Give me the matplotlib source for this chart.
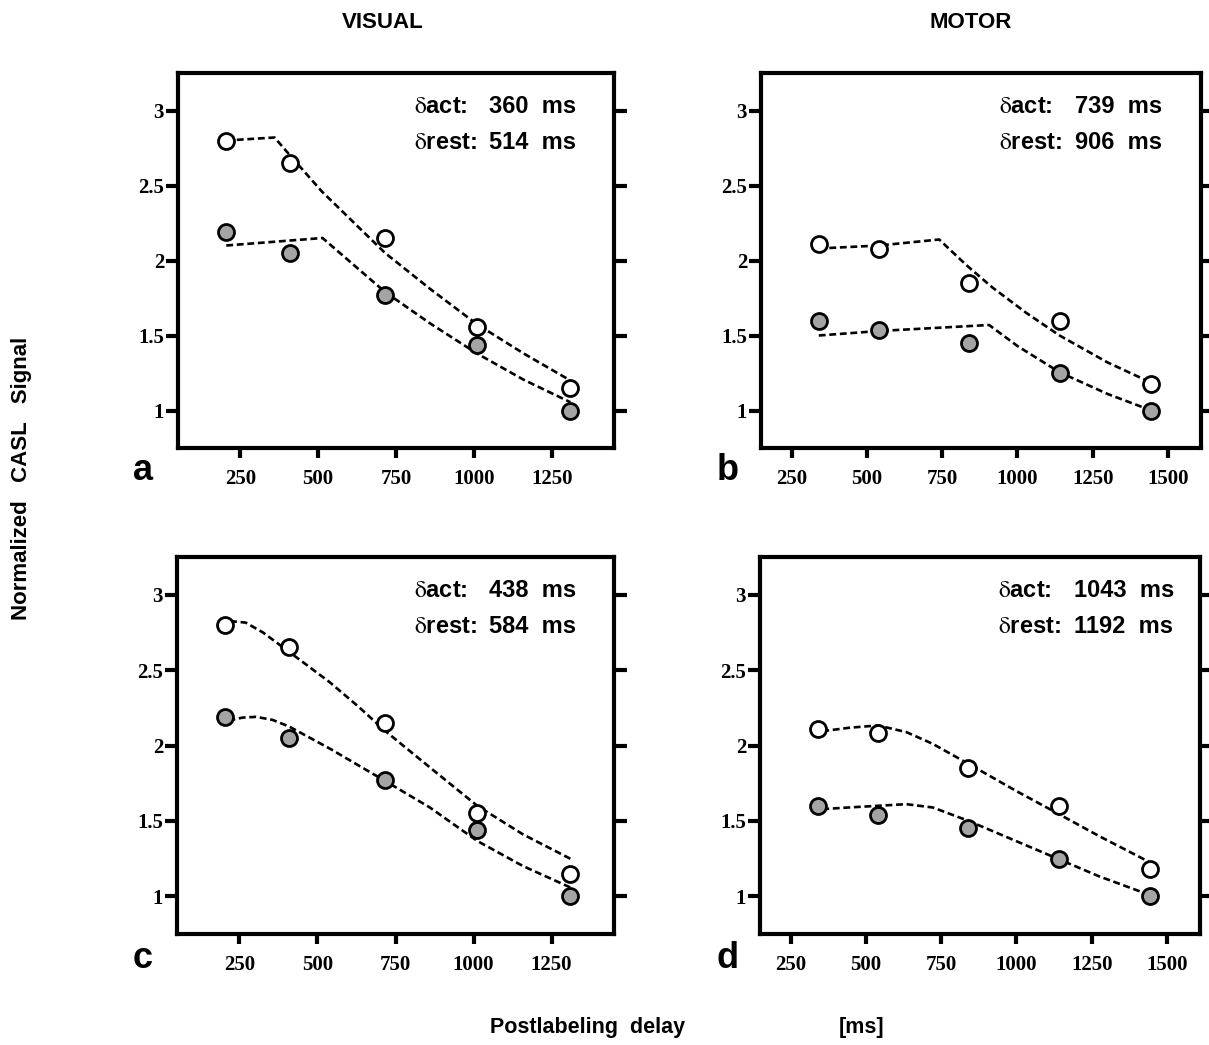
import matplotlib.pyplot as plt

plt.rcParams['mathtext.fontset'] = 'stix'

# measured points (same data shown in both rows)
visual_x = [205, 410, 715, 1010, 1310]
visual_act = [2.80, 2.65, 2.15, 1.555, 1.15]
visual_rest = [2.19, 2.05, 1.77, 1.44, 1.00]

motor_x = [340, 540, 840, 1140, 1445]
motor_act = [2.11, 2.08, 1.85, 1.60, 1.18]
motor_rest = [1.60, 1.54, 1.45, 1.25, 1.00]

# fitted model curves
fit_a_act_x = [205, 360, 410, 512, 715, 860, 1010, 1160, 1310]
fit_a_act_y = [2.80, 2.82, 2.70, 2.46, 2.05, 1.81, 1.575, 1.38, 1.20]
fit_a_rest_x = [205, 514, 715, 860, 1010, 1160, 1310]
fit_a_rest_y = [2.10, 2.15, 1.79, 1.58, 1.38, 1.205, 1.055]

fit_b_act_x = [340, 540, 740, 830, 917, 1030, 1140, 1300, 1445]
fit_b_act_y = [2.08, 2.10, 2.14, 1.97, 1.82, 1.65, 1.50, 1.32, 1.185]
fit_b_rest_x = [340, 540, 906, 1000, 1140, 1300, 1445]
fit_b_rest_y = [1.50, 1.53, 1.57, 1.43, 1.255, 1.11, 1.00]

fit_c_act_x = [220, 270, 325, 410, 539, 630, 715, 860, 1012, 1159, 1314]
fit_c_act_y = [2.825, 2.815, 2.75, 2.62, 2.42, 2.26, 2.10, 1.855, 1.60, 1.41, 1.245]
fit_c_rest_x = [215, 260, 303, 356, 410, 539, 715, 860, 1012, 1159, 1314]
fit_c_rest_y = [2.165, 2.185, 2.19, 2.17, 2.125, 1.98, 1.767, 1.589, 1.367, 1.20, 1.055]

fit_d_act_x = [355, 446, 540, 634, 722, 841, 998, 1142, 1274, 1440]
fit_d_act_y = [2.095, 2.118, 2.133, 2.089, 2.011, 1.878, 1.70, 1.544, 1.40, 1.229]
fit_d_rest_x = [355, 450, 540, 634, 722, 841, 998, 1142, 1274, 1440]
fit_d_rest_y = [1.578, 1.59, 1.60, 1.611, 1.589, 1.50, 1.367, 1.245, 1.133, 1.011]

y_ticks = [1, 1.5, 2, 2.5, 3]
y_ticklabels = ['1', '1.5', '2', '2.5', '3']
visual_xticks = [250, 500, 750, 1000, 1250]
motor_xticks = [250, 500, 750, 1000, 1250, 1500]

delays = {'a': ('360', '514'), 'b': ('739', '906'),
          'c': ('438', '584'), 'd': ('1043', '1192')}

W, H = 1209, 1045
fig = plt.figure(figsize=(W / 100, H / 100), dpi=100)


def px_axes(left, top, right, bottom):
    return fig.add_axes([left / W, 1 - bottom / H, (right - left) / W, (bottom - top) / H])


panels = [
    ('a', px_axes(178, 73, 614, 448), visual_x, visual_act, visual_rest,
     fit_a_act_x, fit_a_act_y, fit_a_rest_x, fit_a_rest_y, visual_xticks, (50, 1450)),
    ('b', px_axes(761, 73, 1201, 448), motor_x, motor_act, motor_rest,
     fit_b_act_x, fit_b_act_y, fit_b_rest_x, fit_b_rest_y, motor_xticks, (148, 1610)),
    ('c', px_axes(177, 557, 614, 934), visual_x, visual_act, visual_rest,
     fit_c_act_x, fit_c_act_y, fit_c_rest_x, fit_c_rest_y, visual_xticks, (50, 1450)),
    ('d', px_axes(760, 557, 1200, 934), motor_x, motor_act, motor_rest,
     fit_d_act_x, fit_d_act_y, fit_d_rest_x, fit_d_rest_y, motor_xticks, (148, 1610)),
]

dash = (0, (2.6, 1.4))

for letter, ax, x, act, rest, fax, fay, frx, fry, xt, xl in panels:
    ax.plot(fax, fay, color='black', lw=1.9, linestyle=dash, zorder=2)
    ax.plot(frx, fry, color='black', lw=1.9, linestyle=dash, zorder=2)
    ax.plot(x, act, 'o', ms=11.5, mfc='white', mec='black', mew=2.0, zorder=3)
    ax.plot(x, rest, 'o', ms=11.5, mfc='#a4a4a4', mec='black', mew=2.0, zorder=3)

    ax.set_xlim(*xl)
    ax.set_ylim(0.75, 3.25)
    ax.set_xticks(xt)
    ax.set_xticklabels([str(v) for v in xt])
    ax.set_yticks(y_ticks)
    ax.set_yticklabels(y_ticklabels)
    for sp in ax.spines.values():
        sp.set_linewidth(3)
    ax.tick_params(axis='x', direction='out', length=7, width=3, pad=8)
    ax.tick_params(axis='y', direction='out', length=9, width=3, pad=1,
                   right=True, labelright=False)
    for lab in ax.get_xticklabels() + ax.get_yticklabels():
        lab.set_fontfamily('Liberation Serif')
        lab.set_fontweight('bold')
        lab.set_fontsize(15)

    d_act, d_rest = delays[letter]
    ax.text(0.542, 0.91, r'$\mathrm{\delta}$act:', transform=ax.transAxes,
            fontsize=17, fontweight='bold', family='Liberation Sans', va='center', ha='left')
    ax.text(0.542, 0.815, r'$\mathrm{\delta}$rest:', transform=ax.transAxes,
            fontsize=17, fontweight='bold', family='Liberation Sans', va='center', ha='left')
    ax.text(0.713, 0.91, d_act + '  ms', transform=ax.transAxes,
            fontsize=17, fontweight='bold', family='Liberation Sans', va='center', ha='left')
    ax.text(0.713, 0.815, d_rest + '  ms', transform=ax.transAxes,
            fontsize=17, fontweight='bold', family='Liberation Sans', va='center', ha='left')

# panel letters
for letter, (px, py) in {'a': (143, 470), 'b': (728, 470), 'c': (143, 958), 'd': (728, 958)}.items():
    fig.text(px / W, 1 - py / H, letter, fontsize=26, fontweight='bold',
             family='Liberation Sans', ha='center', va='center')

fig.text(383 / W, 1 - 22 / H, 'VISUAL', fontsize=16, fontweight='bold',
         family='Liberation Sans', ha='center', va='center')
fig.text(971 / W, 1 - 22 / H, 'MOTOR', fontsize=16, fontweight='bold',
         family='Liberation Sans', ha='center', va='center')
fig.text(22 / W, 1 - 478 / H, 'Normalized   CASL   Signal', fontsize=16, fontweight='bold',
         family='Liberation Sans', rotation=90, ha='center', va='center')
fig.text(588 / W, 1 - 1028 / H, 'Postlabeling  delay', fontsize=15.5, fontweight='bold',
         family='Liberation Sans', ha='center', va='center')
fig.text(862 / W, 1 - 1028 / H, '[ms]', fontsize=15.5, fontweight='bold',
         family='Liberation Sans', ha='center', va='center')

plt.savefig('out.png', dpi=100)
